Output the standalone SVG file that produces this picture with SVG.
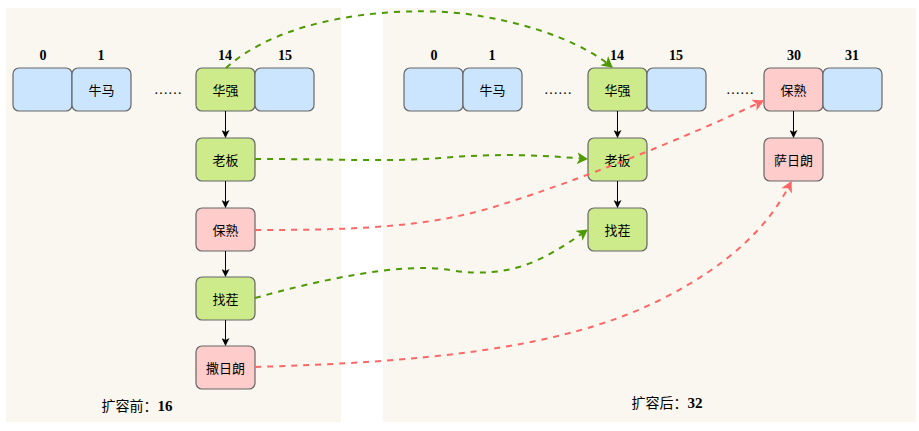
<svg xmlns="http://www.w3.org/2000/svg" width="919" height="431" viewBox="0 0 919 431">
<style>
.bg{fill:#f9f7ef}
.cell{stroke:#666;stroke-width:1.2}
.b{fill:#cce5ff}
.g{fill:#cdeb8b}
.r{fill:#ffcccc}
.t{font-family:"Noto Sans CJK SC",sans-serif;font-size:13px;fill:#000;text-anchor:middle;dominant-baseline:central}
.n{font-family:"Liberation Serif",serif;font-weight:bold;font-size:14px;fill:#000;text-anchor:middle}
.cap{font-family:"Liberation Serif","Noto Sans CJK SC",serif;font-size:14px;fill:#000;text-anchor:middle}
.num{font-weight:bold;font-size:15px}
.dots{font-family:"Liberation Serif",serif;font-size:14px;fill:#000;text-anchor:middle}
.v{stroke:#000;stroke-width:1;fill:none}
.gd{stroke:#4d9900;stroke-width:2;fill:none;stroke-dasharray:6 6}
.rd{stroke:#ff6666;stroke-width:2;fill:none;stroke-dasharray:6 6}
</style>
<defs>
<marker id="ab" markerWidth="8" markerHeight="8" refX="7" refY="4" orient="auto" markerUnits="userSpaceOnUse"><path d="M0,0 L8,4 L0,8 L2,4 z" fill="#000"/></marker>
<marker id="ag" markerWidth="12" markerHeight="12" refX="10" refY="6" orient="auto" markerUnits="userSpaceOnUse"><path d="M0,0 L11,6 L0,12 L3,6 z" fill="#4d9900"/></marker>
<marker id="ar" markerWidth="12" markerHeight="12" refX="10" refY="6" orient="auto" markerUnits="userSpaceOnUse"><path d="M0,0 L11,6 L0,12 L3,6 z" fill="#ff6666"/></marker>
</defs>
<rect class="bg" x="6" y="8" width="335" height="414"/>
<rect class="bg" x="383" y="8" width="533" height="414"/>

<g id="left-table">
<text class="n" x="43" y="60">0</text><text class="n" x="101" y="60">1</text><text class="n" x="225" y="60">14</text><text class="n" x="285" y="60">15</text>
<g id="L0"><rect class="cell b" x="13" y="68" width="59" height="43" rx="6"/></g>
<g id="L1"><rect class="cell b" x="72" y="68" width="59" height="43" rx="6"/><text class="t" x="101.5" y="89.5">牛马</text></g>
<text class="dots" x="168" y="94">……</text>
<g id="L14"><rect class="cell g" x="196" y="68" width="59" height="43" rx="6"/><text class="t" x="225.5" y="89.5">华强</text></g>
<g id="L15"><rect class="cell b" x="255" y="68" width="59" height="43" rx="6"/></g>
<g id="L-laoban"><rect class="cell g" x="196" y="138" width="59" height="43" rx="6"/><text class="t" x="225.5" y="159.5">老板</text></g>
<g id="L-baoshu"><rect class="cell r" x="196" y="208" width="59" height="43" rx="6"/><text class="t" x="225.5" y="229.5">保熟</text></g>
<g id="L-zhaocha"><rect class="cell g" x="196" y="277" width="59" height="43" rx="6"/><text class="t" x="225.5" y="298.5">找茬</text></g>
<g id="L-saririang"><rect class="cell r" x="196" y="346" width="59" height="43" rx="6"/><text class="t" x="225.5" y="367.5">撒日朗</text></g>
<text class="cap" x="137" y="411">扩容前：<tspan class="num">16</tspan></text>
</g>

<g id="right-table">
<text class="n" x="434" y="60">0</text><text class="n" x="492" y="60">1</text><text class="n" x="617" y="60">14</text><text class="n" x="676" y="60">15</text><text class="n" x="794" y="60">30</text><text class="n" x="852" y="60">31</text>
<g id="R0"><rect class="cell b" x="404" y="68" width="59" height="43" rx="6"/></g>
<g id="R1"><rect class="cell b" x="463" y="68" width="59" height="43" rx="6"/><text class="t" x="492.5" y="89.5">牛马</text></g>
<text class="dots" x="558" y="94">……</text>
<g id="R14"><rect class="cell g" x="588" y="68" width="59" height="43" rx="6"/><text class="t" x="617.5" y="89.5">华强</text></g>
<g id="R15"><rect class="cell b" x="647" y="68" width="59" height="43" rx="6"/></g>
<text class="dots" x="740" y="94">……</text>
<g id="R30"><rect class="cell r" x="764" y="68" width="59" height="43" rx="6"/><text class="t" x="793.5" y="89.5">保熟</text></g>
<g id="R31"><rect class="cell b" x="823" y="68" width="59" height="43" rx="6"/></g>
<g id="R-laoban"><rect class="cell g" x="588" y="138" width="59" height="43" rx="6"/><text class="t" x="617.5" y="159.5">老板</text></g>
<g id="R-zhaocha"><rect class="cell g" x="588" y="208" width="59" height="43" rx="6"/><text class="t" x="617.5" y="229.5">找茬</text></g>
<g id="R-saririang"><rect class="cell r" x="764" y="138" width="59" height="43" rx="6"/><text class="t" x="793.5" y="159.5">萨日朗</text></g>
<text class="cap" x="667" y="408">扩容后：<tspan class="num">32</tspan></text>
</g>

<g id="connectors">
<path class="v" d="M225.5,111 V137" marker-end="url(#ab)"/>
<path class="v" d="M225.5,181 V207" marker-end="url(#ab)"/>
<path class="v" d="M225.5,251 V276" marker-end="url(#ab)"/>
<path class="v" d="M225.5,320 V345" marker-end="url(#ab)"/>
<path class="v" d="M617.5,111 V137" marker-end="url(#ab)"/>
<path class="v" d="M617.5,181 V207" marker-end="url(#ab)"/>
<path class="v" d="M793.5,111 V137" marker-end="url(#ab)"/>
<path class="gd" d="M226,68 C290,10 420,5 480,16 C540,26 585,45 612,67" marker-end="url(#ag)"/>
<path class="gd" d="M255,159 C340,159 390,162 440,158 C500,153 540,155 587,159" marker-end="url(#ag)"/>
<path class="rd" d="M255,230 C350,230 430,228 500,205 C580,180 680,140 763,101" marker-end="url(#ar)"/>
<path class="gd" d="M255,298 C320,280 400,262 450,270 C510,280 545,260 587,230" marker-end="url(#ag)"/>
<path class="rd" d="M255,367 C420,362 560,350 660,300 C730,265 770,225 791,182" marker-end="url(#ar)"/>
</g>
</svg>
